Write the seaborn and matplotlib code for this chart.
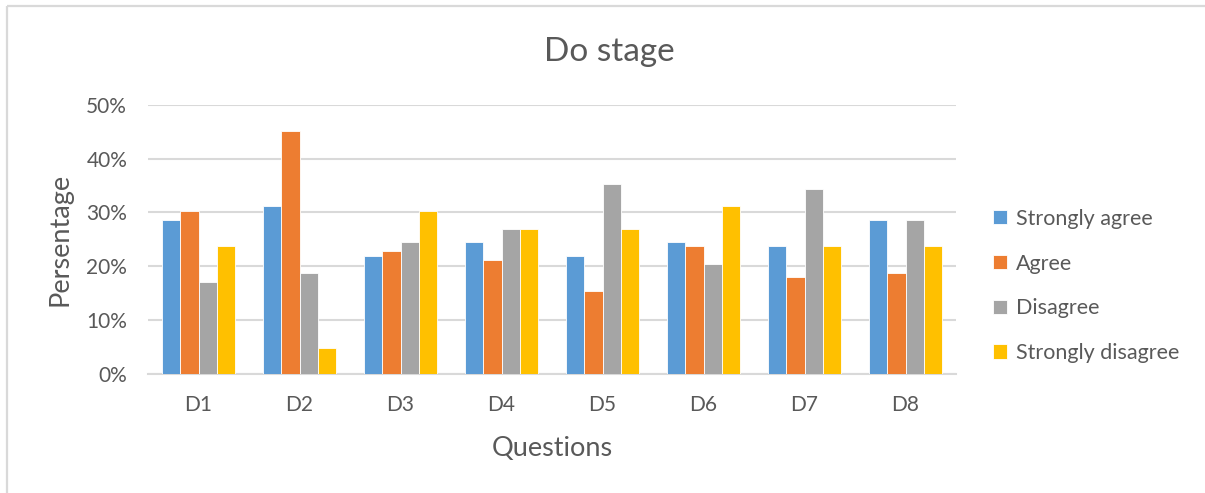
import numpy as np
import pandas as pd
import matplotlib
matplotlib.use("Agg")
import matplotlib.pyplot as plt
import seaborn as sns
from matplotlib.lines import Line2D
from matplotlib.ticker import PercentFormatter

questions=["D1","D2","D3","D4","D5","D6","D7","D8"]
levels=["Strongly agree","Agree","Disagree","Strongly disagree"]
strongly_agree=[28.6,31.1,22.0,24.5,22.0,24.5,23.7,28.6]
agree=[30.3,45.1,22.9,21.2,15.5,23.7,18.0,18.8]
disagree=[17.1,18.8,24.5,27.0,35.2,20.4,34.4,28.6]
strongly_disagree=[23.7,4.9,30.3,27.0,27.0,31.1,23.7,23.7]
colors=["#5B9BD5","#ED7D31","#A5A5A5","#FFC000"]

#long form table for seaborn
rows=[]
for lv,vals in zip(levels,[strongly_agree,agree,disagree,strongly_disagree]):
    for q,v in zip(questions,vals):
        rows.append({"Questions":q,"level":lv,"pct":v/100})
df=pd.DataFrame(rows)

sns.set_theme(style="white")
plt.rcParams['font.family']=['Lato','DejaVu Sans']
txt="#595959"
grid="#D9D9D9"

fg=plt.figure(figsize=(12.05,4.93),dpi=100)
fg.patch.set_linewidth(0)
ax=fg.add_axes([148/1205,1-374/493,808/1205,(374-104.7)/493])

sns.barplot(data=df,x="Questions",y="pct",hue="level",
    hue_order=levels,order=questions,palette=colors,saturation=1,
    width=0.73,gap=0,edgecolor="white",linewidth=0.6,
    errorbar=None,ax=ax,zorder=3)

ax.set_ylim(0,0.5)
ax.set_yticks(np.arange(0,0.51,0.1))
ax.yaxis.set_major_formatter(PercentFormatter(1.0,decimals=0))
ax.grid(axis="y",color=grid,linewidth=1.5,zorder=0)
ax.set_axisbelow(True)
for s in ["top","right","left"]:
    ax.spines[s].set_visible(False)
ax.spines["bottom"].set_color(grid)
ax.spines["bottom"].set_linewidth(1.5)
ax.tick_params(axis="both",length=0,labelsize=15,colors=txt)
ax.tick_params(axis="x",pad=15)
ax.tick_params(axis="y",pad=15)
ax.set_xlabel("Questions",fontsize=19.5,color=txt,labelpad=15)
ax.set_ylabel("Persentage",fontsize=19.5,color=txt,labelpad=10)
fg.text(609/1205,1-52/493,"Do stage",fontsize=24,color=txt,ha="center",va="center")

leg=ax.legend(loc="center left",bbox_to_anchor=(974/1205,1-286/493),
    bbox_transform=fg.transFigure,frameon=False,
    fontsize=15.5,labelcolor=txt,handlelength=0.65,handleheight=0.65,
    handletextpad=0.4,labelspacing=1.15)

#chart frame (only top and left edges fall inside the picture)
fg.add_artist(Line2D([7/1205,1.05],[1-6/493,1-6/493],transform=fg.transFigure,
    color=grid,linewidth=1.6,solid_capstyle="butt"))
fg.add_artist(Line2D([7/1205,7/1205],[-0.05,1-6/493],transform=fg.transFigure,
    color=grid,linewidth=1.6,solid_capstyle="butt"))

fg.savefig("out.png",dpi=100)
